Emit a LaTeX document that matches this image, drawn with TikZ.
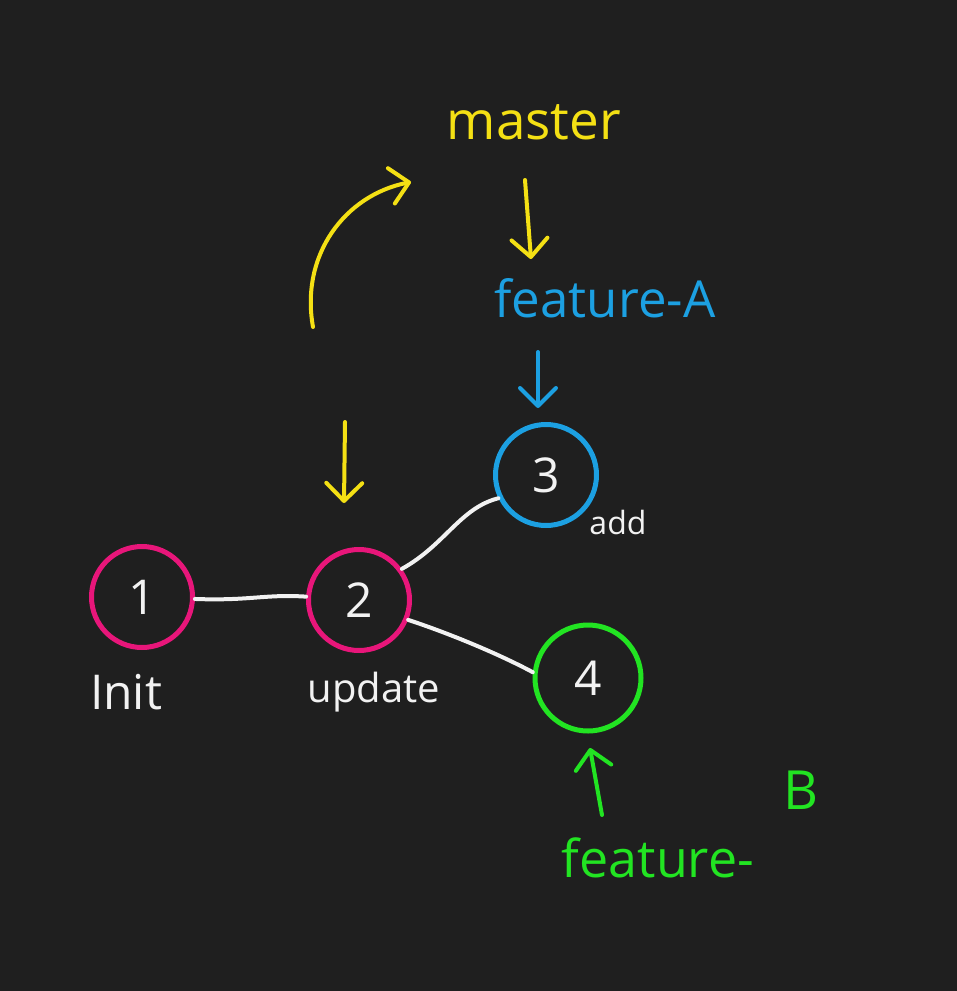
\documentclass[tikz,border=0pt]{standalone}
\usepackage{fontspec}
\setmainfont{Open Sans}
\usetikzlibrary{arrows.meta}
\definecolor{bgc}{RGB}{31,31,31}
\definecolor{hyel}{RGB}{244,224,20}
\definecolor{hblue}{RGB}{28,160,226}
\definecolor{hpink}{RGB}{232,22,122}
\definecolor{hgreen}{RGB}{34,228,34}
\definecolor{hwhite}{RGB}{242,242,242}
\tikzset{
  commit/.style={circle, line width=5pt, minimum size=101pt, inner sep=0pt, text=hwhite,
    font=\fontsize{48}{48}\selectfont},
  edge/.style={draw=hwhite, line width=4pt, line cap=round},
  lbl/.style={inner sep=0pt, text=hwhite},
  hand/.style={line width=4pt, line cap=round, line join=round,
    -{Straight Barb[length=18pt,width=36pt,round]}},
}
\begin{document}
\begin{tikzpicture}[x=1pt,y=-1pt]
\fill[bgc] (0,0) rectangle (957,991);
\useasboundingbox (0,0) rectangle (957,991);

% commits
\node[commit, draw=hpink] (c1) at (142,597) {1};
\node[commit, draw=hpink] (c2) at (359,600) {2};
\node[commit, draw=hblue] (c3) at (546,475) {3};
\node[commit, draw=hgreen, minimum size=106pt] (c4) at (588,678) {4};

% edges
\draw[edge] (c1) .. controls (250,601) and (265,594) .. (c2);
\draw[edge] (c2.36) .. controls (445,545) and (460,508) .. (c3.206);
\draw[edge] (c2.-22) .. controls (445,632) and (495,652) .. (c4.174);

% commit labels
\node[lbl, font=\fontsize{48}{48}\selectfont] (init) at (126,692) {Init};
\node[lbl, font=\fontsize{40}{40}\selectfont] (update) at (374,692) {update};
\node[lbl, font=\fontsize{32}{32}\selectfont] (add) at (618,522) {add};

% branch names
\node[inner sep=0pt, text=hyel, font=\fontsize{53}{53}\selectfont] (master) at (534,122) {master};
\node[inner sep=0pt, text=hblue, font=\fontsize{51}{51}\selectfont] (featA) at (605,298) {feature-A};
\node[inner sep=0pt, text=hgreen, font=\fontsize{52}{52}\selectfont] (featB) at (658,858) {feature-};
\node[inner sep=0pt, text=hgreen, font=\fontsize{54}{54}\selectfont] (featBB) at (801,790) {B};

% pointer arrows
\coordinate (ya1) at (525,180); \coordinate (ya2) at (531,259);
\draw[hand, draw=hyel] (ya1) -- (ya2);
\coordinate (ba1) at (538,352); \coordinate (ba2) at (538,408);
\draw[hand, draw=hblue] (ba1) -- (ba2);
\coordinate (yc1) at (313,327); \coordinate (yc2) at (411,182);
\draw[hand, draw=hyel] (yc1) .. controls (300,255) and (345,195) .. (yc2);
\coordinate (yd1) at (345,422); \coordinate (yd2) at (344,503);
\draw[hand, draw=hyel] (yd1) -- (yd2);
\coordinate (ga1) at (602,815); \coordinate (ga2) at (590,748);
\draw[hand, draw=hgreen] (ga1) -- (ga2);
\end{tikzpicture}
\end{document}
